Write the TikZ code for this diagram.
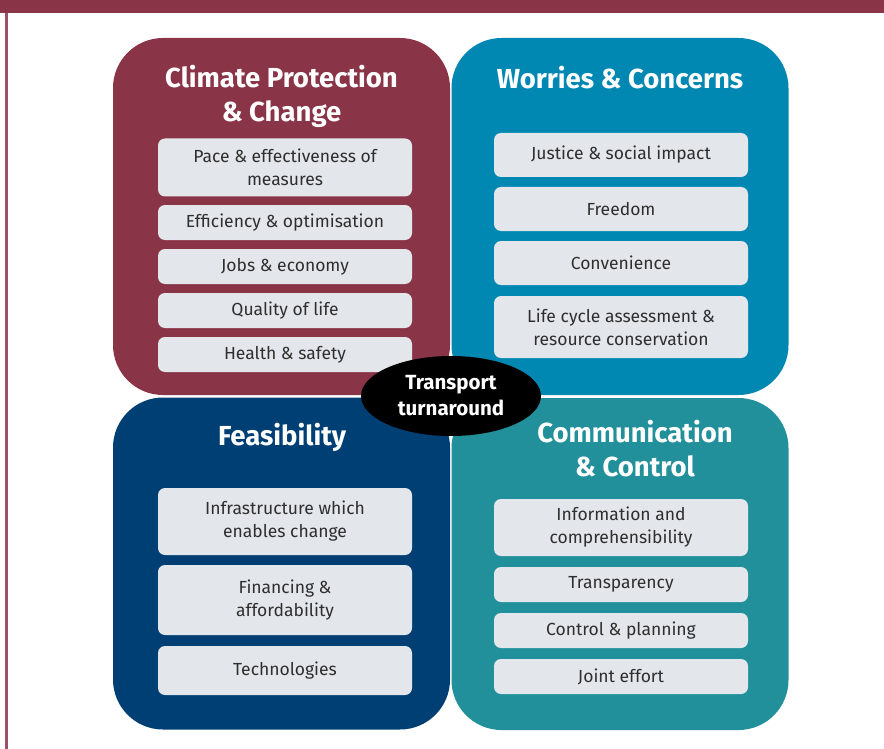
\documentclass[tikz,border=0pt]{standalone}
\usepackage{fontspec}
\setmainfont{Fira Sans}
\usetikzlibrary{shapes.geometric}
\definecolor{maroon}{HTML}{8A3448}
\definecolor{skyblue}{HTML}{0088B2}
\definecolor{navy}{HTML}{003F73}
\definecolor{teal}{HTML}{22909A}
\definecolor{boxgray}{HTML}{E3E7EB}
\definecolor{boxtext}{HTML}{2E2E2E}
\tikzset{
  panel/.style={rectangle, rounded corners=50pt, minimum width=337pt, minimum height=#1, inner sep=0pt},
  ptitle/.style={text=white, font=\bfseries\fontsize{27.5}{34}\selectfont, align=center, inner sep=0pt},
  item/.style={rectangle, rounded corners=7pt, fill=boxgray, text=boxtext, minimum width=254pt, minimum height=#1,
    inner sep=0pt, align=center, font=\fontsize{17.5}{23}\selectfont},
  hub/.style={ellipse, fill=black, minimum width=180pt, minimum height=80pt, inner sep=0pt, text=white,
    font=\bfseries\fontsize{20.5}{26}\selectfont, align=center}
}
\begin{document}
\begin{tikzpicture}[x=1pt,y=-1pt]
  \useasboundingbox (0,0) rectangle (884,749);
  \fill[white] (0,0) rectangle (884,749);
  % frame
  \fill[maroon] (0,0) rectangle (884,13);
  \fill[maroon!85!white] (5,13) rectangle (8,749);

  % four quadrants
  \node[panel=357pt, fill=maroon] (pCl) at (281.5,216.5) {};
  \node[panel=357pt, fill=skyblue] (pWo) at (620,216.5) {};
  \node[panel=332pt, fill=navy] (pFe) at (281.5,563.5) {};
  \node[panel=332pt, fill=teal] (pCo) at (620,564) {};

  % titles
  \node[ptitle] (tCl) at (281.5,96) {Climate Protection\\\& Change};
  \node[ptitle] (tWo) at (620,78) {Worries \& Concerns};
  \node[ptitle] (tFe) at (282,437) {Feasibility};
  \node[ptitle] (tCo) at (635,448.5) {Communication\\\& Control};

  % climate protection items
  \node[item=58pt] (c1) at (285,167.5) {Pace \& effectiveness of\\measures};
  \node[item=35pt] (c2) at (285,222.5) {Efficiency \& optimisation};
  \node[item=35pt] (c3) at (285,266.5) {Jobs \& economy};
  \node[item=35pt] (c4) at (285,310.5) {Quality of life};
  \node[item=35pt] (c5) at (285,354.5) {Health \& safety};

  % worries items
  \node[item=44pt] (w1) at (621,155) {Justice \& social impact};
  \node[item=44pt] (w2) at (621,209) {Freedom};
  \node[item=44pt] (w3) at (621,263) {Convenience};
  \node[item=62pt] (w4) at (621,327) {Life cycle assessment \&\\resource conservation};

  % feasibility items
  \node[item=67pt] (f1) at (285,521.5) {Infrastructure which\\enables change};
  \node[item=70pt] (f2) at (285,600) {Financing \&\\affordability};
  \node[item=49pt] (f3) at (285,670.5) {Technologies};

  % communication items
  \node[item=57pt] (m1) at (621,527.5) {Information and\\comprehensibility};
  \node[item=35pt] (m2) at (621,584.5) {Transparency};
  \node[item=35pt] (m3) at (621,630.5) {Control \& planning};
  \node[item=35pt] (m4) at (621,676.5) {Joint effort};

  % centre
  \node[hub] (hub) at (451,396) {Transport\\turnaround};
\end{tikzpicture}
\end{document}
